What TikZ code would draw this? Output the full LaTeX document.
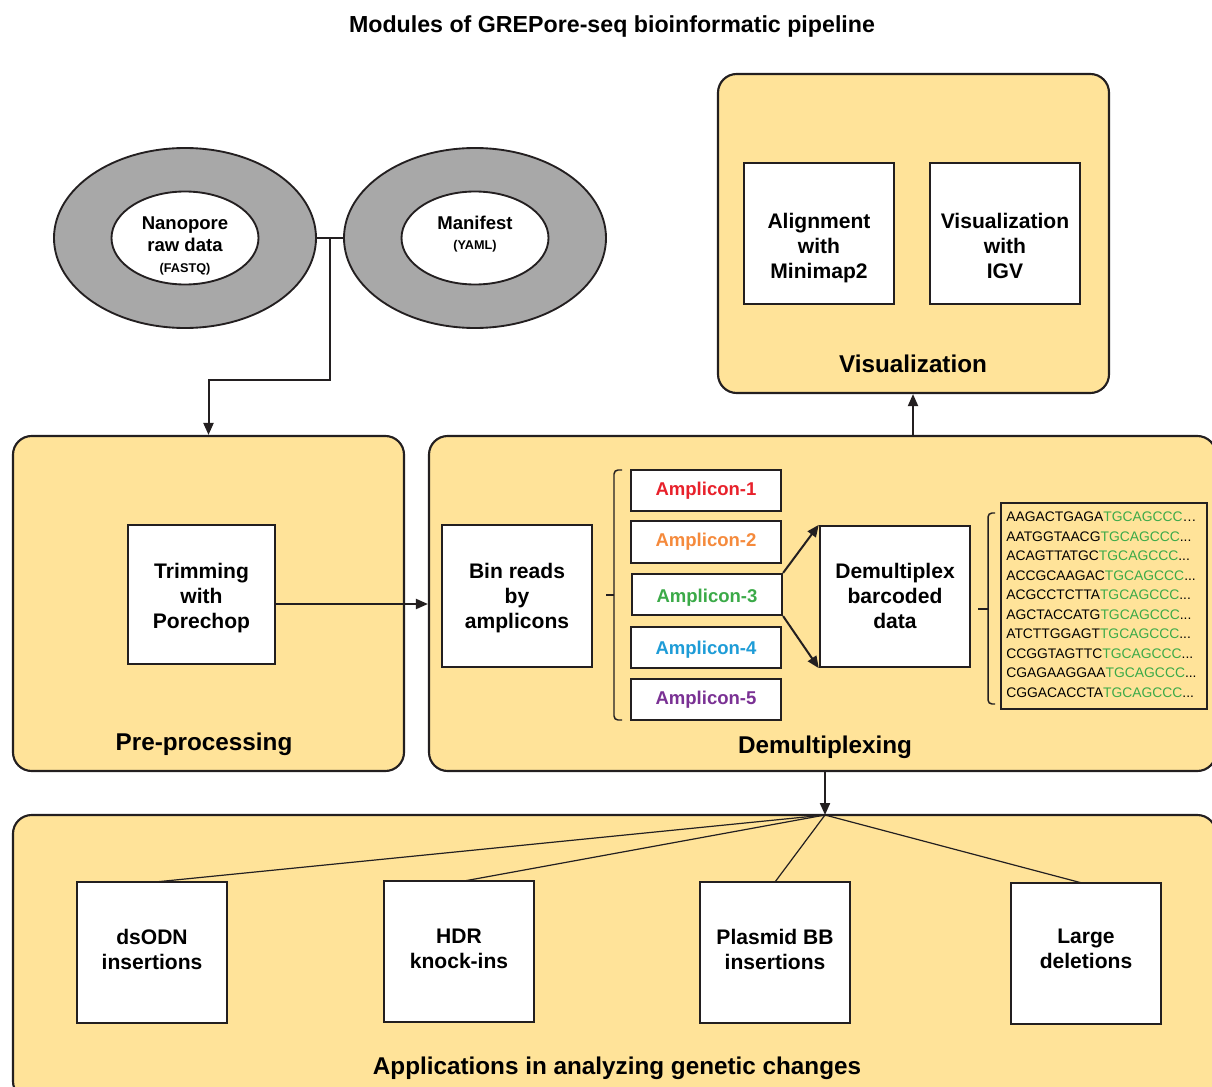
\documentclass[tikz,border=0pt]{standalone}
\usepackage{fontspec}
\setmainfont{Liberation Sans}
\usetikzlibrary{shapes.geometric,arrows.meta}
\definecolor{panelY}{HTML}{FFE399}
\definecolor{ringG}{HTML}{A8A8A8}
\definecolor{ampA}{HTML}{E8212B}
\definecolor{ampB}{HTML}{F58A3C}
\definecolor{ampC}{HTML}{3BAA48}
\definecolor{ampD}{HTML}{1E9CD7}
\definecolor{ampE}{HTML}{7A3194}
\definecolor{lineK}{HTML}{231F20}
\newcommand\seqdots{...}
\newcommand\seqell{…}
\tikzset{
  sz/.style 2 args={minimum width=#1*0.75pt, minimum height=#2*0.75pt},
  panel/.style={draw=lineK, line width=1.6pt, fill=panelY, rounded corners=14pt, inner sep=0pt},
  wbox/.style={draw=lineK, line width=1.8pt, fill=white, inner sep=0pt},
  boxtext/.style={align=center, inner sep=0pt, font=\bfseries\fontsize{15.8}{18.75}\selectfont},
  ampbox/.style={draw=lineK, line width=1.6pt, fill=white, inner sep=0pt,
    font=\bfseries\fontsize{13.9}{16}\selectfont},
  paneltitle/.style={font=\bfseries\fontsize{18.2}{20}\selectfont, inner sep=0pt},
  outerring/.style={draw=lineK, line width=1.4pt, fill=ringG, ellipse, inner sep=0pt},
  innerring/.style={draw=lineK, line width=1.4pt, fill=white, ellipse, inner sep=0pt},
  ringtext/.style={align=center, inner sep=0pt, font=\bfseries\fontsize{13.9}{16.5}\selectfont},
  conn/.style={draw=lineK, line width=1.5pt},
  arr/.style={conn, -{Triangle[length=9pt,width=7.5pt]}},
  fan/.style={draw=lineK, line width=0.9pt},
  brace/.style={draw=lineK, line width=1.1pt, rounded corners=3pt},
  seq/.style={anchor=west, inner sep=0pt, font=\fontsize{10.4}{12}\selectfont}
}
\begin{document}
\begin{tikzpicture}[x=0.75pt,y=-0.75pt]
\useasboundingbox (0,0) rectangle (1212,1087);
\clip (0,0) rectangle (1212,1087);

% title
\node[font=\bfseries\fontsize{17.4}{20}\selectfont, inner sep=0pt] (title) at (612,27) {Modules of GREPore-seq bioinformatic pipeline};

% input ellipses
\node[outerring, sz={262}{180}] (rawO) at (185,238) {};
\node[innerring, sz={147}{93}] (raw) at (185,238) {};
\node[ringtext] (rawT) at (185,246) {Nanopore\\raw data\\[-1pt]{\fontsize{9.5}{11}\selectfont (FASTQ)}};
\node[outerring, sz={262}{180}] (manO) at (475,238) {};
\node[innerring, sz={147}{93}] (man) at (475,238) {};
\node[ringtext] (manT) at (475,234) {Manifest\\[-2pt]{\fontsize{9.5}{11}\selectfont (YAML)}};

% panels
\node[panel, sz={391}{319}] (vis) at (913.5,233.5) {};
\node[panel, sz={391}{335}] (pre) at (208.5,603.5) {};
\node[panel, sz={787}{335}] (dem) at (822.5,603.5) {};
\node[panel, sz={1203}{285}] (app) at (614.5,957.5) {};

\node[paneltitle, anchor=base] (visT) at (913,372) {Visualization};
\node[paneltitle, anchor=base] (preT) at (204,750) {Pre-processing};
\node[paneltitle, anchor=base] (demT) at (825,753) {Demultiplexing};
\node[paneltitle, anchor=base] (appT) at (617,1074) {Applications in analyzing genetic changes};

% visualization boxes
\node[wbox, sz={150}{141}] (mm2) at (819,233.5) {};
\node[boxtext] (mm2T) at (819,248.5) {Alignment\\with\\Minimap2};
\node[wbox, sz={150}{141}] (igv) at (1005,233.5) {};
\node[boxtext] (igvT) at (1005,245.5) {Visualization\\with\\IGV};

% pre-processing
\node[wbox, sz={147}{139}] (trim) at (201.5,594.5) {};
\node[boxtext] (trimT) at (201.5,598.5) {Trimming\\with\\Porechop};

% demultiplexing
\node[wbox, sz={150}{142}] (bin) at (517,596) {};
\node[boxtext] (binT) at (517,598) {Bin reads\\by\\amplicons};
\node[ampbox, sz={150}{41}, text=ampA] (a1) at (706,490.5) {Amplicon-1};
\node[ampbox, sz={150}{42}, text=ampB] (a2) at (706,542) {Amplicon-2};
\node[ampbox, sz={150}{41}] (a3) at (707,594.5) {};
\node[inner sep=0pt, text=ampC, font=\bfseries\fontsize{13.9}{16}\selectfont] (a3T) at (707,597.5) {Amplicon-3};
\node[ampbox, sz={150}{41}] (a4) at (706,647.5) {};
\node[inner sep=0pt, text=ampD, font=\bfseries\fontsize{13.9}{16}\selectfont] (a4T) at (706,650) {Amplicon-4};
\node[ampbox, sz={150}{41}, text=ampE] (a5) at (706,699.5) {Amplicon-5};
\node[wbox, sz={150}{141}] (dmx) at (895,596.5) {};
\node[boxtext] (dmxT) at (895,595.5) {Demultiplex\\barcoded\\data};
\node[draw=lineK, line width=1.6pt, fill=panelY, inner sep=0pt, sz={206}{206}] (seqbox) at (1104,606) {};

% brackets
\coordinate (b1t) at (622,470);
\coordinate (b1b) at (622,720);
\draw[brace] (b1t) -- (614,470) -- (614,720) -- (b1b);
\draw[brace] (614,595) -- (606,595);
\coordinate (b2t) at (995,513);
\coordinate (b2b) at (995,704);
\draw[brace] (b2t) -- (988,513) -- (988,704) -- (b2b);
\draw[brace] (988,609) -- (978,609);

% sequences
\foreach \i/\s/\e/\y in {1/AAGACTGAGA/\seqell/517, 2/AATGGTAACG/\seqdots/536.5, 3/ACAGTTATGC/\seqdots/556,
  4/ACCGCAAGAC/\seqdots/575.5, 5/ACGCCTCTTA/\seqdots/595, 6/AGCTACCATG/\seqdots/614.5, 7/ATCTTGGAGT/\seqdots/634,
  8/CCGGTAGTTC/\seqdots/653.5, 9/CGAGAAGGAA/\seqdots/673, 10/CGGACACCTA/\seqdots/692.5}
  \node[seq] (s\i) at (1006,\y) {\s\textcolor{ampC}{TGCAGCCC}\e};

% applications
\node[wbox, sz={150}{141}] (ds) at (152,952.5) {};
\node[boxtext] (dsT) at (152,949) {dsODN\\insertions};
\node[wbox, sz={150}{141}] (hdr) at (459,951.5) {};
\node[boxtext] (hdrT) at (459,949) {HDR\\knock-ins};
\node[wbox, sz={150}{141}] (pbb) at (775,952.5) {};
\node[boxtext] (pbbT) at (775,949) {Plasmid BB\\insertions};
\node[wbox, sz={150}{141}] (ld) at (1086,953.5) {};
\node[boxtext] (ldT) at (1086,948.5) {Large\\deletions};

% connectors
\coordinate (j) at (330,238);
\draw[conn] (rawO.east) -- (manO.west);
\draw[arr] (j) -- (330,380) -| (pre.north);
\coordinate (tr) at (275,604);
\draw[arr] (tr) -- (dem.west |- tr);
\draw[arr] (a3.north east) -- (dmx.north west);
\draw[arr] (a3.south east) -- (dmx.south west);
\coordinate (demV) at (913,436);
\draw[arr] (demV) -- (vis.south -| demV);
\coordinate (demB) at (825,771);
\coordinate (hub) at (825,815);
\draw[arr] (demB) -- (hub);
\draw[fan] (hub) -- (155,882);
\draw[fan] (hub) -- (464,881);
\draw[fan] (hub) -- (775,882);
\draw[fan] (hub) -- (1082,883);
\end{tikzpicture}
\end{document}
